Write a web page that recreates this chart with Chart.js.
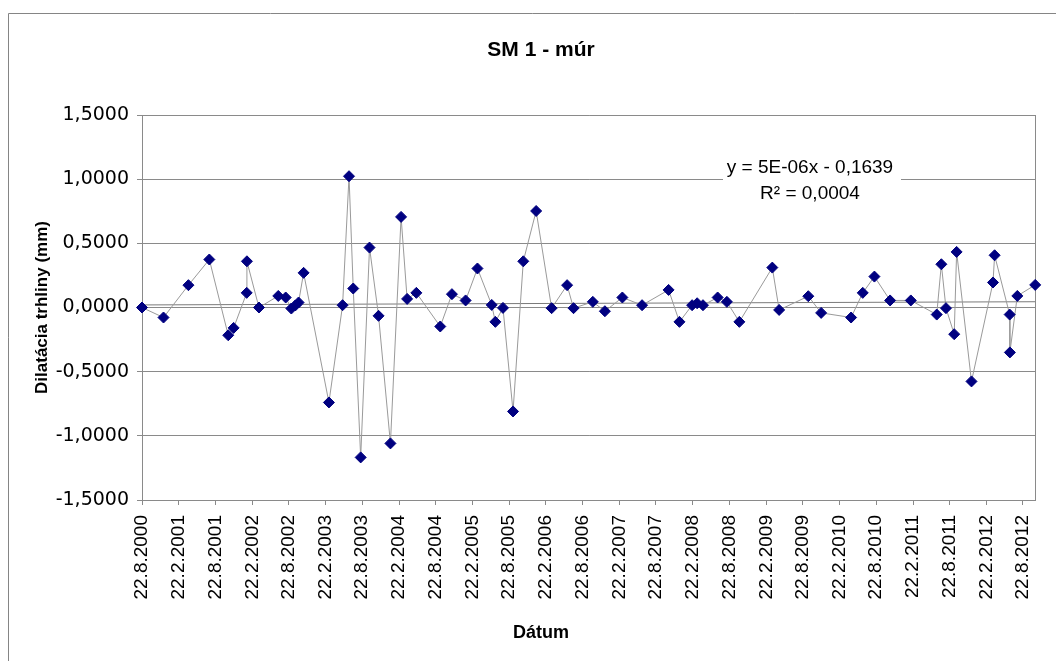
<!DOCTYPE html>
<html>
<head>
<meta charset="utf-8">
<title>SM 1 - múr</title>
<script src="https://cdn.jsdelivr.net/npm/chart.js@4.4.0/dist/chart.umd.min.js"></script>
<style>
  html, body { margin: 0; padding: 0; background: #fff; }
</style>
</head>
<body>
<canvas id="chart" width="1056" height="661"></canvas>
<script>
// measurement dates (d.m.yyyy) and crack dilatation in mm
const measureDates = [
  '22.8.2000', '7.12.2000', '10.4.2001', '23.7.2001', '25.10.2001', '21.11.2001',
  '25.1.2002', '26.1.2002', '27.3.2002', '1.7.2002', '7.8.2002', '4.9.2002',
  '24.9.2002', '10.10.2002', '4.11.2002', '10.3.2003', '17.5.2003', '18.6.2003',
  '9.7.2003', '15.8.2003', '28.9.2003', '12.11.2003', '10.1.2004', '3.3.2004',
  '2.4.2004', '18.5.2004', '14.9.2004', '11.11.2004', '18.1.2005', '18.3.2005',
  '28.5.2005', '15.6.2005', '23.7.2005', '11.9.2005', '1.11.2005', '4.1.2006',
  '22.3.2006', '7.6.2006', '9.7.2006', '13.10.2006', '12.12.2006', '9.3.2007',
  '15.6.2007', '25.10.2007', '18.12.2007', '19.2.2008', '15.3.2008', '13.4.2008',
  '25.6.2008', '10.8.2008', '11.10.2008', '24.3.2009', '27.4.2009', '19.9.2009',
  '22.11.2009', '20.4.2010', '17.6.2010', '14.8.2010', '31.10.2010', '11.2.2011',
  '20.6.2011', '13.7.2011', '5.8.2011', '15.9.2011', '27.9.2011', '10.12.2011',
  '26.3.2012', '3.4.2012', '17.6.2012', '18.6.2012', '25.7.2012', '22.10.2012'
];
const dilatation = [
  0.000, -0.078, 0.174, 0.374, -0.216, -0.159,
  0.114, 0.360, 0.000, 0.090, 0.078, -0.008,
  0.016, 0.039, 0.270, -0.740, 0.018, 1.023,
  0.148, -1.168, 0.467, -0.065, -1.059, 0.706,
  0.067, 0.114, -0.148, 0.104, 0.055, 0.304,
  0.020, -0.112, -0.003, -0.810, 0.360, 0.752,
  -0.005, 0.174, -0.005, 0.044, -0.029, 0.078,
  0.018, 0.137, -0.112, 0.018, 0.033, 0.018,
  0.078, 0.044, -0.112, 0.311, -0.019, 0.088,
  -0.042, -0.078, 0.114, 0.241, 0.055, 0.055,
  -0.055, 0.337, -0.005, -0.208, 0.433, -0.576,
  0.195, 0.407, -0.055, -0.350, 0.090, 0.176
];
const tickDates = [
  '22.8.2000', '22.2.2001', '22.8.2001', '22.2.2002', '22.8.2002', '22.2.2003',
  '22.8.2003', '22.2.2004', '22.8.2004', '22.2.2005', '22.8.2005', '22.2.2006',
  '22.8.2006', '22.2.2007', '22.8.2007', '22.2.2008', '22.8.2008', '22.2.2009',
  '22.8.2009', '22.2.2010', '22.8.2010', '22.2.2011', '22.8.2011', '22.2.2012',
  '22.8.2012'
];
// linear trend at first and last date
const trendValues = [0.020, 0.045];
const trendLabel = ['y = 5E-06x - 0,1639', 'R² = 0,0004'];

function dayNo(s) {
  const [d, m, y] = s.split('.').map(Number);
  return Date.UTC(y, m - 1, d) / 86400000;
}

const tickValues = tickDates.map(dayNo);
const points = measureDates.map((d, i) => ({ x: dayNo(d), y: dilatation[i] }));
const xMin = points[0].x;
const xMax = points[points.length - 1].x;

const fmt = v => v.toFixed(4).replace('.', ',');
const gridGray = '#8a8a8a';

const frame = {
  id: 'frame',
  beforeDraw(chart) {
    const ctx = chart.ctx;
    ctx.save();
    ctx.fillStyle = '#fff';
    ctx.fillRect(0, 0, chart.width, chart.height);
    ctx.strokeStyle = '#858585';
    ctx.lineWidth = 1;
    ctx.beginPath();
    ctx.moveTo(8.5, chart.height);
    ctx.lineTo(8.5, 13.5);
    ctx.lineTo(chart.width, 13.5);
    ctx.stroke();
    ctx.restore();
  },
  afterDatasetsDraw(chart) {
    const ctx = chart.ctx;
    const a = chart.chartArea;
    const cx = a.left + 668;
    ctx.save();
    ctx.fillStyle = '#fff';
    ctx.fillRect(a.left + 581, a.top + 38, 178, 56);
    ctx.fillStyle = '#000';
    ctx.font = '19px "Liberation Sans", Arial, sans-serif';
    ctx.textAlign = 'center';
    ctx.textBaseline = 'middle';
    ctx.fillText(trendLabel[0], cx, a.top + 53);
    ctx.fillText(trendLabel[1], cx, a.top + 79);
    ctx.restore();
  }
};

new Chart(document.getElementById('chart'), {
  type: 'line',
  data: {
    datasets: [
      {
        label: 'SM 1',
        data: points,
        borderColor: '#9a9a9a',
        borderWidth: 1,
        pointStyle: 'rectRot',
        pointRadius: 5.5,
        pointBackgroundColor: '#000080',
        pointBorderColor: '#000080',
        pointBorderWidth: 1,
        tension: 0,
        clip: false,
        order: 0
      },
      {
        label: 'trend',
        data: [{ x: xMin, y: trendValues[0] }, { x: xMax, y: trendValues[1] }],
        borderColor: '#7a7a7a',
        borderWidth: 1,
        pointRadius: 0,
        order: 1
      }
    ]
  },
  options: {
    responsive: false,
    animation: false,
    layout: { padding: { left: 26, right: 0, top: 0, bottom: 0 } },
    plugins: {
      legend: { display: false },
      tooltip: { enabled: false },
      title: {
        display: true,
        text: 'SM 1 - múr',
        color: '#000',
        font: { family: '"Liberation Sans", Arial, sans-serif', size: 21, weight: 'bold' },
        padding: { top: 37.4, bottom: 52.4 }
      },
      subtitle: {
        display: true,
        position: 'bottom',
        text: 'Dátum',
        color: '#000',
        font: { family: '"Liberation Sans", Arial, sans-serif', size: 18, weight: 'bold' },
        padding: { top: 12, bottom: 17.4 }
      }
    },
    scales: {
      x: {
        type: 'linear',
        min: xMin,
        max: xMax,
        afterFit: s => { s.height = 110; },
        afterBuildTicks: s => { s.ticks = tickValues.map(v => ({ value: v })); },
        grid: { drawOnChartArea: false, color: gridGray, tickLength: 5 },
        border: { color: gridGray },
        ticks: {
          autoSkip: false,
          maxRotation: 90,
          minRotation: 90,
          padding: 10,
          color: '#000',
          font: { family: '"Liberation Sans", Arial, sans-serif', size: 19 },
          callback: v => {
            const i = tickValues.indexOf(v);
            return i >= 0 ? tickDates[i] : '';
          }
        }
      },
      y: {
        min: -1.5,
        max: 1.5,
        afterFit: s => { s.width = 116; },
        grid: { color: gridGray, tickLength: 5 },
        border: { color: gridGray },
        ticks: {
          stepSize: 0.5,
          padding: 8,
          color: '#000',
          font: { family: '"DejaVu Sans", sans-serif', size: 19 },
          callback: v => fmt(v)
        },
        title: {
          display: true,
          text: 'Dilatácia trhliny (mm)',
          color: '#000',
          font: { family: '"Liberation Sans", Arial, sans-serif', size: 17, weight: 'bold' },
          padding: { top: 6, bottom: 0 }
        }
      },
      yRight: {
        position: 'right',
        min: -1.5,
        max: 1.5,
        afterFit: s => { s.width = 18; },
        grid: { display: false },
        border: { color: gridGray },
        ticks: { display: false }
      }
    }
  },
  plugins: [frame]
});
</script>
</body>
</html>
